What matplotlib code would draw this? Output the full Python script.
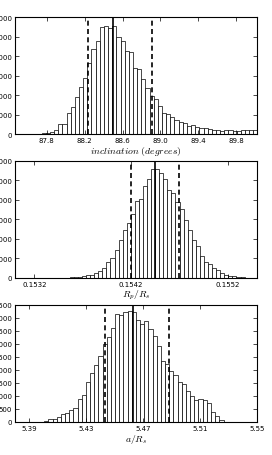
import matplotlib
matplotlib.use("Agg")
import matplotlib.pyplot as plt
import numpy as np

plt.rcParams['mathtext.fontset'] = 'cm'

# inclinacion
inc_edges = (87.747, 90.025)
inc_counts = [30, 70, 120, 200, 510, 500, 1060, 1400, 1890, 2420,
              2880, 3650, 4340, 4750, 5490, 5520, 5430, 5520, 5000, 4750,
              4250, 4200, 3380, 3340, 2830, 2350, 1940, 1800, 1460, 1060,
              1030, 860, 740, 600, 570, 430, 480, 380, 330, 290,
              260, 220, 200, 170, 200, 200, 170, 170, 200, 190,
              200, 220]
inc_lines = [88.240, 88.504, 88.909]
inc_ticks = [87.8, 88.2, 88.6, 89.0, 89.4, 89.8]

# Rp/Rs
rp_edges = (0.153482, 0.155414)
rp_counts = [15, 20, 35, 50, 70, 90, 140, 170, 270, 340,
             530, 840, 1030, 1410, 1970, 2440, 2830, 3290, 3930, 4070,
             4700, 5090, 5570, 5610, 5400, 5090, 4490, 4370, 3890, 3550,
             2950, 2470, 1970, 1660, 1110, 810, 720, 510, 430, 240,
             170, 100, 90, 50, 35, 20]
rp_lines = [0.154198, 0.154449, 0.154697]
rp_ticks = [0.1532, 0.1542, 0.1552]

# a/Rs
a_edges = (5.3976, 5.5294)
a_counts = [10, 40, 100, 130, 190, 290, 345, 470, 550, 870,
            1020, 1530, 1890, 2210, 2520, 3000, 3260, 3620, 4160, 4130,
            4220, 4260, 4220, 3940, 3770, 3870, 3580, 3300, 2920, 2340,
            2240, 1980, 1820, 1530, 1470, 1210, 1000, 860, 900, 860,
            730, 380, 230, 60, 15]
a_lines = [5.4432, 5.4627, 5.4882]
a_ticks = [5.39, 5.43, 5.47, 5.51, 5.55]

paneles = [
    (inc_edges, inc_counts, inc_lines, inc_ticks, ['87.8', '88.2', '88.6', '89.0', '89.4', '89.8'],
     (87.465, 90.02), 6000, 1000, r'$inclination\ (degrees)$', 0.7039),
    (rp_edges, rp_counts, rp_lines, rp_ticks, ['0.1532', '0.1542', '0.1552'],
     (0.1530, 0.1555), 6000, 1000, r'$R_p/R_s$', 0.3882),
    (a_edges, a_counts, a_lines, a_ticks, ['5.39', '5.43', '5.47', '5.51', '5.55'],
     (5.38, 5.55), 4500, 500, r'$a/R_s$', 0.0724),
]

fig = plt.figure(figsize=(2.72, 4.56), dpi=100)

for rango, counts, lineas, ticks, ticklabels, xlim, ymax, ystep, etiqueta, y0 in paneles:
    ax = fig.add_axes([0.0551, y0, 0.8898, 0.2566])
    edges = np.linspace(rango[0], rango[1], len(counts) + 1)
    ax.hist(edges[:-1], bins=edges, weights=counts, facecolor='white',
            edgecolor='black', linewidth=0.5)
    # lineas de mediana y percentiles
    ax.axvline(lineas[0], color='black', linestyle='--', linewidth=1.2, dashes=(3, 2))
    ax.axvline(lineas[1], color='black', linestyle='-', linewidth=1.2)
    ax.axvline(lineas[2], color='black', linestyle='--', linewidth=1.2, dashes=(3, 2))
    ax.set_xlim(*xlim)
    ax.set_ylim(0, ymax)
    ax.set_xticks(ticks)
    ax.set_xticklabels(ticklabels)
    ax.set_yticks(np.arange(0, ymax + 1, ystep))
    ax.tick_params(direction='in', top=True, right=True, labelsize=5, length=3, width=0.5, pad=2)
    ax.set_xlabel(etiqueta, fontsize=7, labelpad=1)
    for s in ax.spines.values():
        s.set_linewidth(0.8)

fig.savefig('out.png', dpi=100)
